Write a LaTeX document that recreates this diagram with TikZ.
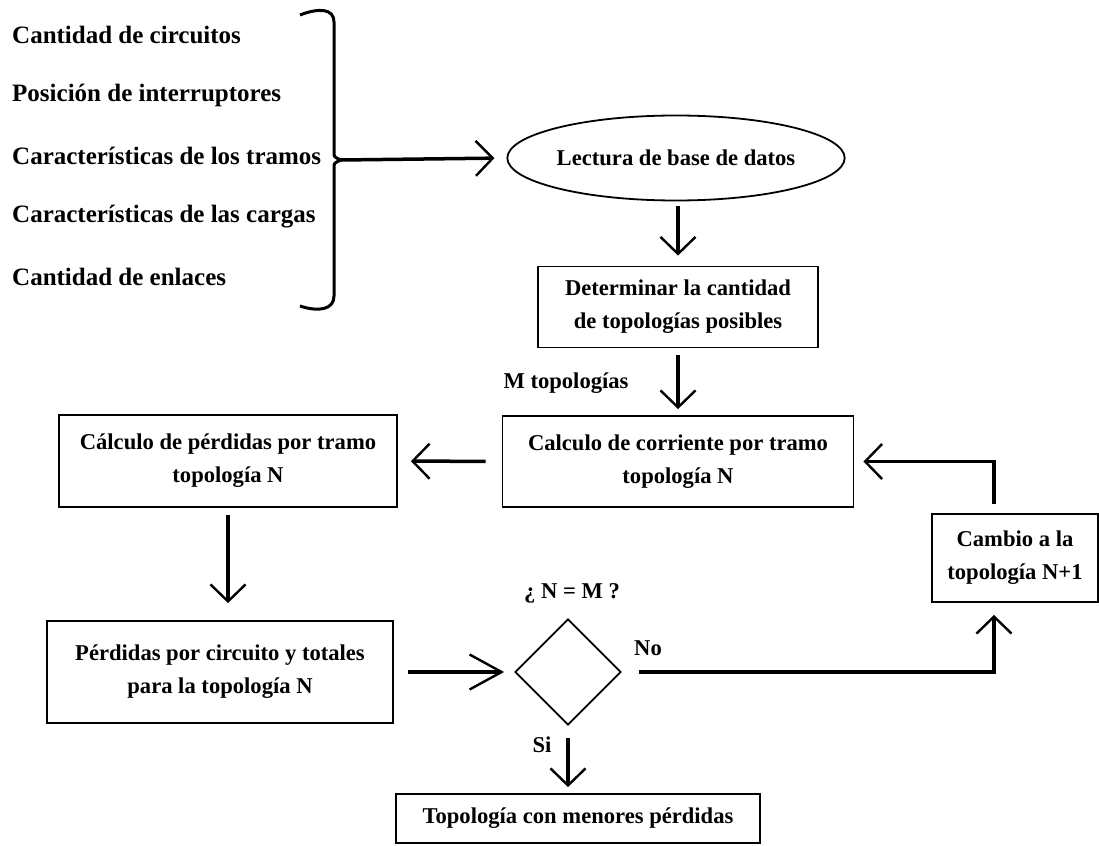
\documentclass[tikz,border=0pt]{standalone}
\usepackage{fontspec}
\setmainfont{Liberation Serif}
\usetikzlibrary{shapes.geometric,arrows.meta}

\tikzset{
  txt/.style={font=\fontsize{22.6}{33}\selectfont\bfseries, inner sep=0pt},
  item/.style={font=\fontsize{25}{30}\selectfont\bfseries, inner sep=0pt, anchor=west},
  box/.style={txt, draw, line width=1.8pt, align=center},
  flow/.style={line width=3.5pt, -{Straight Barb[length=17pt,width=35pt,line width=2.4pt]},
    shorten <=10pt, shorten >=10pt},
  longtip/.style={-{Straight Barb[length=32pt,width=35pt,line width=2.4pt]}},
}

\begin{document}
\begin{tikzpicture}[x=1pt,y=-1pt]
    \useasboundingbox (0,0) rectangle (1099,845);

    \def\lx{12}
    \def\ly{60.5}

    \node[item] (cc) at (\lx,35) {Cantidad de circuitos};
    \node[item] (pi) at (\lx,35+\ly) {Posición de interruptores};
    \node[item] (ct) at (\lx,35+2*\ly) {Características de los tramos};
    \node[item] (cg) at (\lx,35+3*\ly) {Características de las cargas};
    \node[item] (ce) at (\lx,35+4*\ly) {Cantidad de enlaces};

    \draw[line width=3pt] (300,15) .. controls (318,8) and (334,8) .. (334,22) -- (334,152)
        .. controls (334,157) .. (341,160) .. controls (334,163) .. (334,168) -- (334,296)
        .. controls (334,310) and (318,312) .. (300,306);
    \coordinate (br) at (341,160);

    \node[box,ellipse,minimum width=292pt,minimum height=85pt] (lec) at (676,158) {Lectura de base de datos};
    \node[box,minimum width=280pt,minimum height=81pt] (det) at (678,307) {Determinar la cantidad\\de topologías posibles};
    \node[box,minimum width=351pt,minimum height=91pt] (cor) at (678,461.5) {Calculo de corriente por tramo\\topología N};
    \node[box,minimum width=338pt,minimum height=92pt] (perd) at (228,461) {Cálculo de pérdidas por tramo\\topología N};
    \node[box,minimum width=346pt,minimum height=102pt] (ptot) at (220,672) {Pérdidas por circuito y totales\\para la topología N};
    \node[draw,diamond,line width=1.8pt,minimum width=106pt,minimum height=106pt,inner sep=0pt] (dec) at (568,672) {};
    \node[box,minimum width=166pt,minimum height=88pt] (camb) at (1015,558) {Cambio a la\\topología N+1};
    \node[box,minimum width=364pt,minimum height=49pt] (top) at (578,818.5) {Topología con menores pérdidas};

    \node[txt] (mt) at (566,383) {M topologías};
    \node[txt] (nm) at (572,593) {¿ N = M ?};
    \node[txt] (no) at (648,648) {No};
    \node[txt] (si) at (542,745) {Si};

    \draw[flow,shorten <=0pt,shorten >=12pt] (br) -- (lec.west);
    \draw[flow,shorten <=5pt] (lec.south -| det.north) -- (det.north);
    \draw[flow,shorten <=7pt,shorten >=6pt] (det) -- (cor);
    \draw[flow,shorten <=16pt,shorten >=13pt] (cor) -- (perd);
    \draw[flow,shorten <=7pt,shorten >=17pt] (perd.south) -- (perd.south |- ptot.north);
    \draw[flow,longtip,shorten <=14pt] (ptot) -- (dec);
    \draw[flow,shorten <=17pt,shorten >=12pt] (dec.east) -| ([xshift=-21pt]camb.south);
    \draw[flow,shorten <=9pt,shorten >=9pt] ([xshift=-21pt]camb.north) |- (cor.east);
    \draw[flow,shorten <=12pt,shorten >=6pt] (dec.south) -- (dec.south |- top.north);
\end{tikzpicture}
\end{document}
